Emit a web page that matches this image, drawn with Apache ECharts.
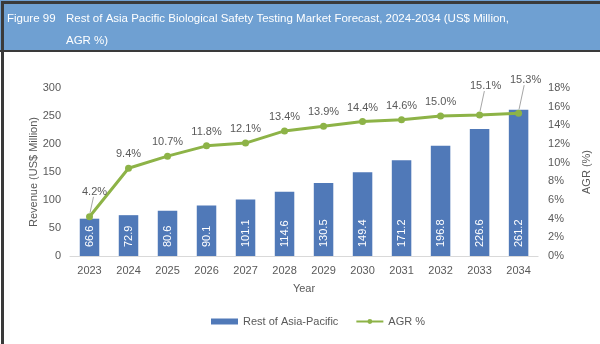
<!DOCTYPE html>
<html>
<head>
<meta charset="utf-8">
<script src="https://cdn.jsdelivr.net/npm/echarts@6/dist/echarts.min.js"></script>
<style>
  html, body { margin: 0; padding: 0; background: #fff; }
  #chart { width: 600px; height: 344px; }
</style>
</head>
<body>
<div id="chart"></div>
<script>
// Yearly categories and values
const years = ['2023', '2024', '2025', '2026', '2027', '2028', '2029', '2030', '2031', '2032', '2033', '2034'];
const revenue = [66.6, 72.9, 80.6, 90.1, 101.1, 114.6, 130.5, 149.4, 171.2, 196.8, 226.6, 261.2];
const agr = [4.2, 9.4, 10.7, 11.8, 12.1, 13.4, 13.9, 14.4, 14.6, 15.0, 15.1, 15.3];

const FONT = 'Liberation Sans, Arial, sans-serif';
const TEXT = '#595959';
const BAR = '#5079B8';
const LINE = '#8DB347';
const FS = 11;

// Labels lifted off the line (pixel shift), joined back by a leader line
const liftedLabels = {
  0: { dx: 5, dy: -11 },
  10: { dx: 6, dy: -15 },
  11: { dx: 7, dy: -19 }
};
const liftedIdx = Object.keys(liftedLabels).map(Number);

const chart = echarts.init(document.getElementById('chart'), null, { renderer: 'canvas' });

chart.setOption({
  backgroundColor: '#ffffff',
  animation: false,
  graphic: [
    { type: 'rect', left: 0, top: 0, shape: { width: 600, height: 51 }, style: { fill: '#6FA0D2' }, z: 0 },
    { type: 'rect', left: 0, top: 50, shape: { width: 600, height: 2 }, style: { fill: '#3A3A3A' }, z: 1 },
    { type: 'rect', left: 0, top: 0, shape: { width: 600, height: 344 }, style: { fill: 'none', stroke: '#3A3A3A', lineWidth: 3 }, z: 2 }
  ],
  title: [
    { text: 'Figure 99', left: 2, top: 3, textStyle: { color: '#fff', fontSize: 11.5, fontWeight: 'normal', fontFamily: FONT, lineHeight: 22 } },
    { text: 'Rest of Asia Pacific Biological Safety Testing Market Forecast, 2024-2034 (US$ Million,\nAGR %)',
      left: 61, top: 3, textStyle: { color: '#fff', fontSize: 11.5, fontWeight: 'normal', fontFamily: FONT, lineHeight: 22 } }
  ],
  legend: {
    top: 311, left: 206, itemGap: 17, itemWidth: 27, itemHeight: 6,
    textStyle: { color: TEXT, fontSize: FS, fontFamily: FONT },
    data: [
      { name: 'Rest of Asia-Pacific', icon: 'rect' },
      { name: 'AGR %' }
    ]
  },
  grid: { left: 70, right: 52, top: 88, bottom: 88 },
  xAxis: {
    type: 'category', data: years,
    name: 'Year', nameLocation: 'middle', nameGap: 27,
    nameTextStyle: { color: TEXT, fontSize: FS, fontFamily: FONT },
    axisLine: { lineStyle: { color: '#D9D9D9', width: 1 } },
    axisTick: { show: false },
    axisLabel: { color: TEXT, fontSize: FS, fontFamily: FONT, margin: 9 }
  },
  yAxis: [
    {
      type: 'value', min: 0, max: 300, interval: 50,
      name: 'Revenue (US$ Million)', nameLocation: 'middle', nameGap: 31, nameRotate: 90,
      nameMoveOverlap: false,
      nameTextStyle: { color: TEXT, fontSize: FS, fontFamily: FONT },
      axisLine: { show: false }, axisTick: { show: false }, splitLine: { show: false },
      axisLabel: { color: TEXT, fontSize: FS, fontFamily: FONT, margin: 9 }
    },
    {
      type: 'value', min: 0, max: 18, interval: 2,
      name: 'AGR (%)', nameLocation: 'middle', nameGap: 38, nameRotate: 90,
      nameTextStyle: { color: TEXT, fontSize: FS, fontFamily: FONT },
      axisLine: { show: false }, axisTick: { show: false }, splitLine: { show: false },
      axisLabel: { color: TEXT, fontSize: FS, fontFamily: FONT, margin: 10, formatter: '{value}%' }
    }
  ],
  series: [
    {
      name: 'Rest of Asia-Pacific', type: 'bar', data: revenue, barWidth: '50%',
      itemStyle: { color: BAR },
      label: {
        show: true, position: 'insideBottom', rotate: 90, align: 'left', verticalAlign: 'middle',
        distance: 9, color: '#fff', fontSize: FS, fontFamily: FONT,
        formatter: p => p.value.toFixed(1)
      }
    },
    {
      name: 'AGR %', type: 'line', yAxisIndex: 1, data: agr,
      symbol: 'circle', symbolSize: 7, z: 3,
      lineStyle: { color: LINE, width: 3 }, itemStyle: { color: LINE },
      label: {
        show: true, position: 'top', distance: 5, color: TEXT, fontSize: FS, fontFamily: FONT,
        formatter: p => p.value.toFixed(1) + '%'
      },
      labelLayout: p => liftedLabels[p.dataIndex] || {}
    },
    {
      // leader lines from lifted labels down to their points
      type: 'custom', yAxisIndex: 1, silent: true, z: 2,
      data: liftedIdx.map(i => [i, agr[i]]),
      renderItem: (params, api) => {
        const idx = api.value(0);
        const pt = api.coord([idx, api.value(1)]);
        const s = liftedLabels[idx];
        return {
          type: 'line',
          shape: { x1: pt[0] + 0.5, y1: pt[1] - 4, x2: pt[0] + s.dx * 0.8, y2: pt[1] + s.dy - 9 },
          style: { stroke: '#A6A6A6', lineWidth: 1 }
        };
      }
    }
  ]
});
</script>
</body>
</html>
